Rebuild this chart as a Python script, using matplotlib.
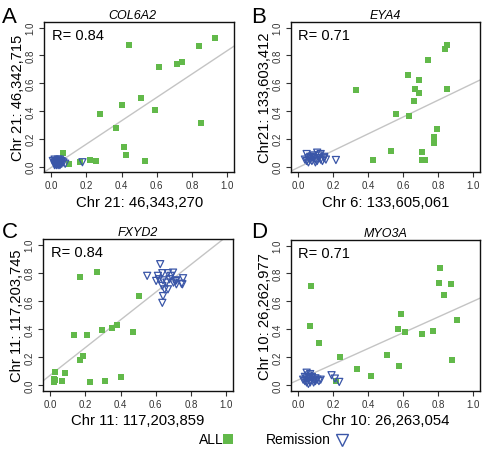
import numpy as np
import matplotlib
matplotlib.use("Agg")
import matplotlib.pyplot as plt
from matplotlib.lines import Line2D

plt.rcParams['font.family'] = ['Liberation Sans', 'DejaVu Sans']

GREEN = "#62b94a"
BLUE = "#3a56a8"
LINE = "#c4c4c4"

# ---- panel A: COL6A2 ----
a_all_x = [0.933, 0.837, 0.746, 0.717, 0.614, 0.440, 0.511, 0.405, 0.589, 0.277,
           0.369, 0.853, 0.413, 0.428, 0.532, 0.067, 0.099, 0.163, 0.220, 0.254]
a_all_y = [0.923, 0.868, 0.755, 0.736, 0.715, 0.875, 0.494, 0.446, 0.408, 0.377,
           0.276, 0.314, 0.144, 0.086, 0.043, 0.096, 0.022, 0.036, 0.046, 0.041]
a_rem_x = [0.01, 0.02, 0.02, 0.03, 0.03, 0.04, 0.04, 0.05, 0.05, 0.06, 0.02, 0.03,
           0.04, 0.05, 0.06, 0.07, 0.03, 0.04, 0.05, 0.02, 0.06, 0.08, 0.04, 0.178]
a_rem_y = [0.04, 0.03, 0.05, 0.02, 0.04, 0.03, 0.05, 0.02, 0.04, 0.03, 0.01, 0.01,
           0.02, 0.01, 0.02, 0.03, 0.03, 0.04, 0.05, 0.02, 0.04, 0.02, 0.01, 0.031]

# ---- panel B: EYA4 ----
b_all_x = [0.851, 0.838, 0.742, 0.630, 0.691, 0.666, 0.694, 0.853, 0.664, 0.330,
           0.560, 0.636, 0.792, 0.775, 0.779, 0.532, 0.430, 0.706, 0.711, 0.723]
b_all_y = [0.872, 0.846, 0.768, 0.661, 0.626, 0.557, 0.528, 0.559, 0.469, 0.550,
           0.379, 0.363, 0.272, 0.211, 0.173, 0.109, 0.047, 0.104, 0.050, 0.050]
b_rem_x = [0.04, 0.05, 0.06, 0.07, 0.08, 0.09, 0.10, 0.11, 0.12, 0.13, 0.14, 0.15,
           0.05, 0.07, 0.09, 0.11, 0.13, 0.15, 0.06, 0.10, 0.12, 0.16, 0.08, 0.217]
b_rem_y = [0.05, 0.04, 0.06, 0.05, 0.04, 0.06, 0.05, 0.04, 0.06, 0.05, 0.04, 0.06,
           0.09, 0.07, 0.08, 0.10, 0.09, 0.07, 0.03, 0.03, 0.08, 0.05, 0.07, 0.047]

# ---- panel C: FXYD2 ----
c_all_x = [0.168, 0.264, 0.507, 0.381, 0.349, 0.294, 0.473, 0.136, 0.212, 0.189,
           0.168, 0.029, 0.084, 0.023, 0.023, 0.069, 0.227, 0.313, 0.403, 0.025]
c_all_y = [0.770, 0.806, 0.632, 0.431, 0.404, 0.390, 0.378, 0.354, 0.359, 0.211,
           0.182, 0.091, 0.084, 0.045, 0.024, 0.031, 0.024, 0.029, 0.057, 0.035]
c_rem_x = [0.551, 0.625, 0.612, 0.618, 0.641, 0.669, 0.698, 0.686, 0.660, 0.637,
           0.650, 0.669, 0.641, 0.637, 0.711, 0.717, 0.746, 0.755, 0.751, 0.678,
           0.602, 0.717, 0.637, 0.700]
c_rem_y = [0.778, 0.861, 0.778, 0.754, 0.746, 0.797, 0.801, 0.778, 0.730, 0.706,
           0.682, 0.682, 0.634, 0.586, 0.742, 0.718, 0.722, 0.761, 0.718, 0.754,
           0.742, 0.746, 0.797, 0.730]

# ---- panel D: MYO3A ----
d_all_x = [0.811, 0.806, 0.874, 0.836, 0.906, 0.075, 0.070, 0.123, 0.591, 0.574,
           0.611, 0.706, 0.770, 0.509, 0.579, 0.877, 0.238, 0.340, 0.415, 0.219]
d_all_y = [0.837, 0.732, 0.722, 0.644, 0.467, 0.711, 0.421, 0.306, 0.512, 0.400,
           0.378, 0.364, 0.385, 0.215, 0.141, 0.184, 0.199, 0.120, 0.065, 0.029]
d_rem_x = [0.03, 0.04, 0.05, 0.06, 0.07, 0.08, 0.09, 0.10, 0.11, 0.12, 0.04, 0.05,
           0.06, 0.07, 0.08, 0.09, 0.10, 0.05, 0.07, 0.06, 0.13, 0.192, 0.211, 0.236]
d_rem_y = [0.04, 0.03, 0.05, 0.04, 0.03, 0.05, 0.04, 0.03, 0.04, 0.03, 0.06, 0.02,
           0.07, 0.02, 0.06, 0.02, 0.05, 0.09, 0.08, 0.01, 0.04, 0.072, 0.048, 0.024]

letters = ["A", "B", "C", "D"]
genes = ["COL6A2", "EYA4", "FXYD2", "MYO3A"]
r_values = ["0.84", "0.71", "0.84", "0.71"]
xlabels = ["Chr 21: 46,343,270", "Chr 6: 133,605,061",
           "Chr 11: 117,203,859", "Chr 10: 26,263,054"]
ylabels = ["Chr 21: 46,342,715", "Chr21: 133,603,412",
           "Chr 11: 117,203,745", "Chr 10: 26,262,977"]
# regression line (slope, intercept)
fits = [(0.841, -0.007), (0.607, -0.008), (0.985, 0.071), (0.564, 0.037)]

all_x = [a_all_x, b_all_x, c_all_x, d_all_x]
all_y = [a_all_y, b_all_y, c_all_y, d_all_y]
rem_x = [a_rem_x, b_rem_x, c_rem_x, d_rem_x]
rem_y = [a_rem_y, b_rem_y, c_rem_y, d_rem_y]

fig = plt.figure(figsize=(4.84, 4.52), dpi=100)
positions = [[0.091, 0.617, 0.393, 0.332], [0.601, 0.617, 0.391, 0.332],
             [0.089, 0.133, 0.393, 0.336], [0.601, 0.133, 0.391, 0.334]]
letter_pos = [(0.004, 0.985), (0.518, 0.985), (0.004, 0.508), (0.518, 0.508)]
title_x = [0.463, 0.5, 0.5, 0.5]

ticks = [0.0, 0.2, 0.4, 0.6, 0.8, 1.0]
for i in range(4):
    ax = fig.add_axes(positions[i])
    ax.set_xlim(-0.04, 1.04)
    ax.set_ylim(-0.04, 1.04)
    xx = np.array([-0.04, 1.04])
    ax.plot(xx, fits[i][0] * xx + fits[i][1], color=LINE, lw=1.0, zorder=1)
    ax.scatter(all_x[i], all_y[i], marker="s", s=15, color=GREEN, linewidths=0, zorder=2)
    ax.scatter(rem_x[i], rem_y[i], marker="v", s=26, facecolors="none",
               edgecolors=BLUE, linewidths=0.9, zorder=3)
    ax.set_xticks(ticks)
    ax.set_yticks(ticks)
    ax.set_xticklabels(["%.1f" % t for t in ticks])
    ax.set_yticklabels(["%.1f" % t for t in ticks], rotation=90, va="center")
    ax.tick_params(length=3.5, width=0.8, labelsize=7, pad=2.5, colors="#333333")
    for s in ax.spines.values():
        s.set_linewidth(1.0)
        s.set_color("#111111")
    ax.set_xlabel(xlabels[i], fontsize=10.7, labelpad=3)
    ax.set_ylabel(ylabels[i], fontsize=10.6, labelpad=0.5)
    ax.set_title(genes[i], fontsize=9, style="italic", pad=3, x=title_x[i])
    ax.text(0.04, 0.915, "R= " + r_values[i], transform=ax.transAxes,
            fontsize=10.5, va="center", ha="left")
    fig.text(letter_pos[i][0], letter_pos[i][1], letters[i], fontsize=16,
             va="top", ha="left")

# bottom legend
fig.text(0.462, 0.027, "ALL", fontsize=10, ha="right", va="center")
fig.add_artist(Line2D([0.472], [0.027], transform=fig.transFigure, marker="s",
                      markersize=6.5, color=GREEN, markeredgewidth=0, linestyle="none"))
fig.text(0.683, 0.027, "Remission", fontsize=10, ha="right", va="center")
fig.add_artist(Line2D([0.706], [0.024], transform=fig.transFigure, marker="v",
                      markersize=9, markerfacecolor="none", markeredgecolor=BLUE,
                      markeredgewidth=1.0, linestyle="none"))

fig.savefig("out.png", dpi=100)
